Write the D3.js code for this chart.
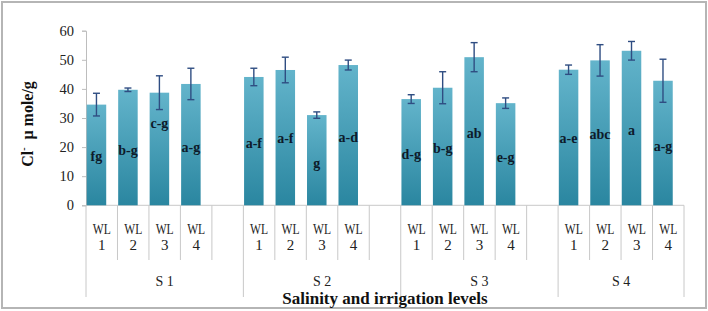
<!DOCTYPE html>
<html>
<head>
<meta charset="utf-8">
<script src="https://cdn.jsdelivr.net/npm/d3@7"></script>
<style>
  html, body { margin: 0; padding: 0; background: #fff; }
  svg { display: block; }
  svg text { font-family: "Liberation Serif", "Times New Roman", Tinos, serif; }
</style>
</head>
<body>
<div id="chart"></div>
<script>
// Cl- content per salinity (S) and irrigation (WL) level
const groups = ["S 1", "S 2", "S 3", "S 4"];
const levels = ["1", "2", "3", "4"];
const values = [
  [34.6, 39.7, 38.7, 41.7],
  [44.1, 46.5, 31.0, 48.2],
  [36.5, 40.4, 50.9, 35.1],
  [46.6, 49.8, 53.1, 42.8]
];
const errors = [
  [3.9, 0.6, 5.8, 5.4],
  [3.0, 4.4, 1.1, 1.7],
  [1.5, 5.5, 5.0, 1.8],
  [1.6, 5.4, 3.2, 7.4]
];
const letters = [
  ["fg", "b-g", "c-g", "a-g"],
  ["a-f", "a-f", "g", "a-d"],
  ["d-g", "b-g", "ab", "e-g"],
  ["a-e", "abc", "a", "a-g"]
];
// where each letter label sits, in axis units
const letterAt = [
  [17.0, 19.0, 28.4, 20.1],
  [21.5, 23.0, 14.4, 23.6],
  [17.6, 19.6, 24.9, 16.7],
  [23.0, 24.4, 25.9, 20.5]
];
const yTicks = [0, 10, 20, 30, 40, 50, 60];

// flatten into slots; an empty slot follows every group but the last
const slots = [];
groups.forEach((g, gi) => {
  levels.forEach((l, li) => {
    slots.push({
      key: g + "-" + l, group: gi, level: l,
      value: values[gi][li], err: errors[gi][li],
      letter: letters[gi][li], at: letterAt[gi][li]
    });
  });
  if (gi < groups.length - 1) slots.push({ key: g + "-gap", group: gi, empty: true });
});
const bars = slots.filter(d => !d.empty);

const W = 708, H = 311;
const plotL = 86, plotR = 684, plotT = 30.7, plotB = 205.3;

const svg = d3.select("#chart").append("svg")
  .attr("width", W)
  .attr("height", H);

// outer frame
svg.append("rect")
  .attr("x", 2).attr("y", 2)
  .attr("width", W - 4).attr("height", H - 5)
  .attr("fill", "none")
  .attr("stroke", "#b5b5b5")
  .attr("stroke-width", 2);

const defs = svg.append("defs");
const grad = defs.append("linearGradient")
  .attr("id", "barFill")
  .attr("x1", 0).attr("y1", 0).attr("x2", 0).attr("y2", 1);
grad.append("stop").attr("offset", "0%").attr("stop-color", "#63b4cb");
grad.append("stop").attr("offset", "100%").attr("stop-color", "#2a86a0");

const x = d3.scaleBand()
  .domain(slots.map(d => d.key))
  .range([plotL, plotR])
  .padding(0);

const y = d3.scaleLinear()
  .domain([0, 60])
  .range([plotB, plotT]);

// Y axis
const yAxis = svg.append("g")
  .attr("transform", `translate(${plotL},0)`)
  .call(d3.axisLeft(y).tickValues(yTicks).tickSize(4).tickPadding(8));
yAxis.attr("font-family", null);
yAxis.select(".domain").attr("stroke", "#bdbdbd");
yAxis.selectAll(".tick line").attr("stroke", "#bdbdbd");
yAxis.selectAll("text")
  .style("font-size", "14.5px")
  .attr("fill", "#222");

// Y axis title
const yTitle = svg.append("text")
  .attr("transform", `translate(33,124) rotate(-90)`)
  .attr("text-anchor", "middle")
  .style("font-size", "16px")
  .style("font-weight", "bold")
  .attr("fill", "#111");
yTitle.append("tspan").text("Cl");
yTitle.append("tspan").attr("dy", -6).style("font-size", "10px").text("-");
yTitle.append("tspan").attr("dy", 6).text("\u00a0 \u03bc mole/g");

// category frame: baseline, inner ticks, group separators
svg.append("line")
  .attr("x1", plotL).attr("x2", plotR)
  .attr("y1", plotB).attr("y2", plotB)
  .attr("stroke", "#c8c8c8");

const edges = slots.map((d, i) => ({
  x: x(d.key),
  long: i === 0 || (i > 0 && slots[i - 1].empty)
}));
edges.push({ x: plotR, long: true });

svg.selectAll(".sep")
  .data(edges)
  .enter()
  .append("line")
  .attr("class", "sep")
  .attr("x1", d => d.x).attr("x2", d => d.x)
  .attr("y1", plotB)
  .attr("y2", d => d.long ? 297 : 260)
  .attr("stroke", "#c8c8c8");

// bars
const barW = x.bandwidth() * 0.62;
svg.selectAll(".bar")
  .data(bars)
  .enter()
  .append("rect")
  .attr("class", "bar")
  .attr("x", d => x(d.key) + 0.7)
  .attr("y", d => y(d.value))
  .attr("width", barW)
  .attr("height", d => y(0) - y(d.value))
  .attr("fill", "url(#barFill)");

// error bars
const cx = d => x(d.key) + 0.7 + barW / 2;
const errG = svg.selectAll(".err")
  .data(bars)
  .enter()
  .append("g")
  .attr("class", "err")
  .attr("stroke", "#2f4d82")
  .attr("stroke-width", 1.4);
errG.append("line")
  .attr("x1", cx).attr("x2", cx)
  .attr("y1", d => y(d.value + d.err))
  .attr("y2", d => y(d.value - d.err));
errG.append("line")
  .attr("x1", d => cx(d) - 3.5).attr("x2", d => cx(d) + 3.5)
  .attr("y1", d => y(d.value + d.err))
  .attr("y2", d => y(d.value + d.err));
errG.append("line")
  .attr("x1", d => cx(d) - 3.5).attr("x2", d => cx(d) + 3.5)
  .attr("y1", d => y(d.value - d.err))
  .attr("y2", d => y(d.value - d.err));

// significance letters
svg.selectAll(".letter")
  .data(bars)
  .enter()
  .append("text")
  .attr("class", "letter")
  .attr("x", cx)
  .attr("y", d => y(d.at))
  .attr("dy", "0.35em")
  .attr("text-anchor", "middle")
  .style("font-size", "14px")
  .style("font-weight", "bold")
  .attr("fill", "#0d1a2a")
  .text(d => d.letter);

// category labels
const catG = svg.selectAll(".cat")
  .data(bars)
  .enter()
  .append("text")
  .attr("class", "cat")
  .attr("text-anchor", "middle")
  .style("font-size", "15px")
  .attr("fill", "#222");
catG.append("tspan")
  .attr("x", d => x(d.key) + x.bandwidth() / 2)
  .attr("y", 234)
  .attr("textLength", 18)
  .attr("lengthAdjust", "spacingAndGlyphs")
  .text("WL");
catG.append("tspan")
  .attr("x", d => x(d.key) + x.bandwidth() / 2)
  .attr("y", 250)
  .text(d => d.level);

// group labels
svg.selectAll(".grp")
  .data(groups)
  .enter()
  .append("text")
  .attr("class", "grp")
  .attr("x", (g, gi) => {
    const ks = slots.filter(d => d.group === gi);
    const x0 = x(ks[0].key), x1 = x(ks[ks.length - 1].key) + x.bandwidth();
    return (x0 + x1) / 2;
  })
  .attr("y", 286)
  .attr("text-anchor", "middle")
  .style("font-size", "14px")
  .attr("fill", "#222")
  .text(d => d);

// X axis title
svg.append("text")
  .attr("x", (plotL + plotR) / 2)
  .attr("y", 304)
  .attr("text-anchor", "middle")
  .style("font-size", "17px")
  .style("font-weight", "bold")
  .attr("fill", "#111")
  .text("Salinity and irrigation  levels");
</script>
</body>
</html>
